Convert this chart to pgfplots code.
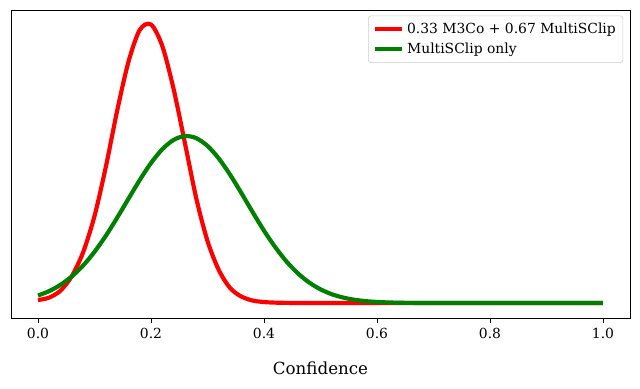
\documentclass[border=0pt]{standalone}
\usepackage{fontspec}
\setmainfont{DejaVu Serif}
\usepackage{pgfplots}
\pgfplotsset{compat=1.18}
\definecolor{mplgreen}{rgb}{0,0.5,0}

\begin{document}
\begin{tikzpicture}
\begin{axis}[
    at={(0,0)}, anchor=south west,
    scale only axis,
    width=445.7pt, height=221.8pt,
    xmin=-0.0478, xmax=1.0478,
    ymin=-15, ymax=293,
    xtick={0,0.2,0.4,0.6,0.8,1.0},
    xticklabel style={/pgf/number format/fixed, /pgf/number format/fixed zerofill, /pgf/number format/precision=1},
    /pgf/number format/assume math mode=true,
    ytick=\empty,
    xtick pos=bottom,
    tick align=outside,
    major tick length=3.5pt,
    tick style={black, line width=0.6pt},
    axis line style={line width=0.6pt},
    ticklabel style={font=\fontsize{10}{12}\selectfont},
    xlabel={Confidence},
    xlabel style={at={(axis description cs:0.5,0)}, anchor=center, yshift=-36pt, font=\fontsize{12}{14}\selectfont},
    legend style={at={(1,1)}, anchor=north east, xshift=-5pt, yshift=-4pt,
        draw=black!20, rounded corners=2pt, font=\fontsize{10}{12}\selectfont,
        inner xsep=3pt, inner ysep=3pt, row sep=1.5pt},
    legend cell align=left,
    legend image code/.code={\draw[#1] (0cm,0cm) -- (0.7cm,0cm);},
]
\addplot[red, line width=3pt, smooth] coordinates {
(0.00,3) (0.02,5.5) (0.04,12.5) (0.06,27) (0.08,51) (0.10,87) (0.12,136)
(0.14,192) (0.16,241) (0.18,273) (0.20,278.5) (0.22,257)
(0.24,214) (0.26,160) (0.28,105) (0.30,62) (0.32,33) (0.34,15) (0.36,6.5)
(0.38,2.5) (0.40,1) (0.42,0.4) (0.45,0.1) (0.50,0) (0.60,0) (0.70,0)
(0.80,0) (0.90,0) (1.00,0)
};
\addlegendentry{0.33 M3Co + 0.67 MultiSClip}
\addplot[mplgreen, line width=3pt, smooth] coordinates {
(0.00,7.5) (0.02,12) (0.04,18.3) (0.06,26.7) (0.08,37.6) (0.10,51.2)
(0.12,67.2) (0.14,85.2) (0.16,104.2) (0.18,122.9) (0.20,140) (0.22,153.8)
(0.24,163.1) (0.26,167) (0.28,164.9) (0.30,157.1) (0.32,144.5) (0.34,128.3)
(0.36,109.9) (0.38,90.8) (0.40,72.4) (0.42,55.8) (0.44,41.4) (0.46,29.7)
(0.48,20.5) (0.50,13.7) (0.52,8.8) (0.54,5.5) (0.56,3.3) (0.58,1.9)
(0.60,1.1) (0.62,0.6) (0.65,0.2) (0.70,0.05) (0.80,0) (0.90,0) (1.00,0)
};
\addlegendentry{MultiSClip only}
\end{axis}
\path (-7.92pt,-50.4pt) rectangle (452.9pt,229.0pt);
\end{tikzpicture}
\end{document}
